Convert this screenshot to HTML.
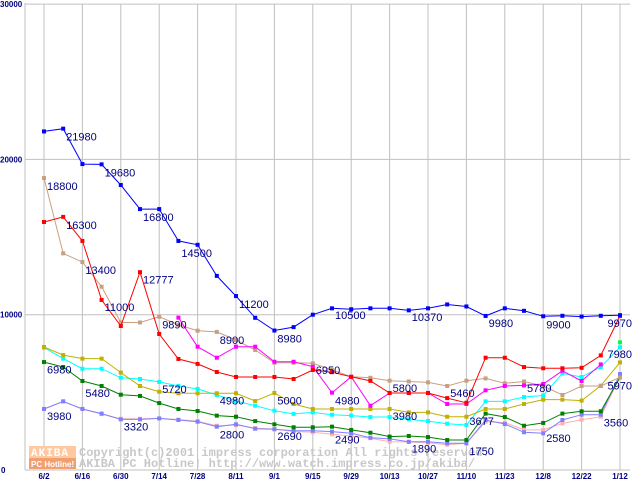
<!DOCTYPE html>
<html><head><meta charset="utf-8"><style>
body{margin:0;background:#fff;}
svg{display:block;}
</style></head><body>
<svg id="chart" width="640" height="480" xmlns="http://www.w3.org/2000/svg" font-family="Liberation Sans, sans-serif">
<g id="grid"></g>
<g id="watermark">
  <rect x="29" y="446" width="47" height="12" fill="#ffc8a0"/>
  <text x="31" y="456" font-size="11" font-weight="bold" fill="#fff" font-family="Liberation Mono, monospace" letter-spacing="1">AKIBA</text>
  <rect x="29" y="458" width="47" height="11" fill="#f0a070"/>
  <text x="31" y="467" font-size="8" font-weight="bold" fill="#fff">PC Hotline!</text>
  <text x="79" y="456" font-size="12" font-weight="bold" fill="#c8c8c8" font-family="Liberation Mono, monospace">Copyright(c)2001 impress corporation All rights reserved.</text>
  <text x="79" y="467" font-size="12" font-weight="bold" fill="#c8c8c8" font-family="Liberation Mono, monospace">AKIBA PC Hotline!  http://www.watch.impress.co.jp/akiba/</text>
</g>
<g id="series"></g>
<g id="labels"></g>
<g id="axes"></g>
</svg>
<script>
const xTickLabels = ["6/2","6/16","6/30","7/14","7/28","8/11","9/1","9/15","9/29","10/13","10/27","11/10","11/23","12/8","12/22","1/12"];
const yTicks = [0,10000,20000,30000];
const seriesNames = ["blue","red","tan","magenta","olive","cyan","green","periwinkle","pink","lime"];
const seriesColors = ["#0000ff","#ff0000","#c8a080","#ff00ff","#c0b000","#00ffff","#008000","#8080ff","#ffb0b0","#00ff40"];
const blueVals = [21800,21980,19700,19680,18350,16800,16800,14750,14500,12500,11200,9800,8980,9200,10000,10410,10350,10410,10410,10280,10410,10660,10530,9920,10410,10250,9900,9930,9880,9930,9970];
const redVals = [15970,16300,14750,10950,9270,12740,8760,7150,6830,6310,5990,5990,5990,5860,6440,6300,6000,5740,4960,4960,4960,4630,4330,7230,7230,6630,6550,6550,6580,7380,9920];
const tanVals = [18800,13950,13390,11800,9500,9500,9870,9340,8970,8890,8370,7730,6910,6910,6870,6440,6010,5940,5750,5700,5640,5410,5750,5900,5580,5700,5410,4830,5410,5410,5970];
const magentaVals = [null,null,null,null,null,null,null,9810,7940,7230,7940,7940,6970,6970,6650,4980,6000,4140,4960,4960,4960,4250,4250,5130,5410,5450,5540,6390,5730,6800,null];
const oliveVals = [7920,7400,7170,7170,6270,5410,5040,4940,4940,4940,4940,4440,4960,4250,3930,3930,3930,3930,3930,3710,3710,3430,3430,3930,3930,4250,4530,4530,4470,5430,6930];
const cyanVals = [7880,7170,6520,6520,5940,5860,5670,5410,5220,4830,4440,4140,3820,3610,3710,3560,3500,3410,3410,3260,3150,2980,2900,4420,4420,4700,4800,6220,5990,6630,7900];
const greenVals = [6950,6630,5730,5410,4850,4770,4310,3930,3800,3500,3430,3150,2940,2750,2750,2790,2580,2400,2150,2190,2120,1930,1930,3630,3410,2850,3030,3630,3780,3780,5970];
const periwinkleVals = [3930,4420,3930,3630,3260,3260,3320,3220,3110,2790,2940,2660,2620,2530,2530,2470,2360,2080,2000,1820,1820,1720,1720,3220,2960,2430,2360,3220,3560,3560,6180];
const pinkVals = [3930,4420,3930,3600,3300,3300,3320,3250,3150,2850,2900,2700,2640,2480,2430,2300,2190,2050,1820,1800,1760,1630,1720,3110,3050,2580,2580,3000,3240,3430,6010];
const limeVals = [null,null,null,null,null,null,null,null,null,null,null,null,null,null,null,null,null,null,null,null,null,null,null,null,null,null,null,null,null,null,8220];
const labelTexts = ["21980","19680","18800","16800","16300","14500","13400","12777","11200","11000","9890","8900","8980","10500","10370","9980","9900","9970","7980","6980","6950","5480","5720","5800","5460","5780","5970","4980","5000","4980","3980","3980","3677","3320","2800","2690","2490","2580","3560","1890","1750"];
const labelIdx = [1,3,0,5,1,7,2,5,10,3,6,9,12,15,19,23,26,30,30,0,14,2,6,18,21,25,30,9,12,15,0,18,22,4,9,12,15,26,29,19,22];
const labelVals = [21980,19680,18800,16800,16300,14500,13400,12777,11200,11000,9890,8900,8980,10500,10370,9980,9900,9970,7980,6980,6950,5480,5720,5800,5460,5780,5970,4980,5000,4980,3980,3980,3677,3320,2800,2690,2490,2580,3560,1890,1750];

const NS="http://www.w3.org/2000/svg";
const X0=44, DX=19.2, Y0=470, YS=0.01553;
function xs(i){return X0+i*DX;}
function ys(v){return Y0-v*YS;}
function mk(tag,attrs,parent){const e=document.createElementNS(NS,tag);for(const k in attrs)e.setAttribute(k,attrs[k]);parent.appendChild(e);return e;}
const grid=document.getElementById('grid'), axes=document.getElementById('axes'), ser=document.getElementById('series'), lab=document.getElementById('labels');
xTickLabels.forEach((t,k)=>{
  const x=xs(k*2);
  const l=mk('line',{x1:x,y1:4,x2:x,y2:Y0,stroke:'#c0c0c0','stroke-width':1},grid);
  
  
  const tx=mk('text',{x:x,y:479,'font-size':8,'font-weight':'bold',fill:'#000080','text-anchor':'middle'},axes);
  tx.textContent=t;
  
  
});
yTicks.forEach(v=>{
  const y=ys(v);
  if(v>0){const l=mk('line',{x1:25,y1:y,x2:630,y2:y,stroke:'#c0c0c0','stroke-width':1},grid);
  
  }
  const tx=mk('text',{x:v===0?1:0,y:v===30000?7:y+3,'font-size':8,'font-weight':'bold',fill:'#000080'},axes);
  tx.textContent=String(v);
  
  
});
const ax1=mk('line',{x1:25,y1:3,x2:25,y2:Y0,stroke:'#c0c0c0','stroke-width':1},axes);


const ax2=mk('line',{x1:25,y1:Y0,x2:630,y2:Y0,stroke:'#c0c0c0','stroke-width':1},axes);


const allVals=[blueVals,redVals,tanVals,magentaVals,oliveVals,cyanVals,greenVals,periwinkleVals,pinkVals,limeVals];
const order=[8,7,6,5,4,2,3,1,0,9];
order.forEach(s=>{
  const vals=allVals[s], col=seriesColors[s];
  const g=mk('g',{},ser);
  
  
  let d='';let pen=false;
  vals.forEach((v,i)=>{if(v==null){pen=false;return;}d+=(pen?'L':'M')+xs(i).toFixed(1)+' '+ys(v).toFixed(1)+' ';pen=true;});
  if(d){const p=mk('path',{d:d,fill:'none',stroke:col,'stroke-width':1},g);
  
  }
  vals.forEach((v,i)=>{if(v==null)return;
    const r=mk('rect',{x:xs(i)-2,y:ys(v)-2,width:4,height:4,fill:col},g);
    
    
  });
});
labelTexts.forEach((t,k)=>{
  const last = labelIdx[k]===xTickLabels.length*2-2;
  const x=last ? xs(labelIdx[k])+12 : xs(labelIdx[k])+3, y=ys(labelVals[k])+12;
  const tx=mk('text',{x:x,y:y,'font-size':11,fill:'#000080','text-anchor':last?'end':'start'},lab);
  tx.textContent=t;
  
  
});
</script>
</body></html>
